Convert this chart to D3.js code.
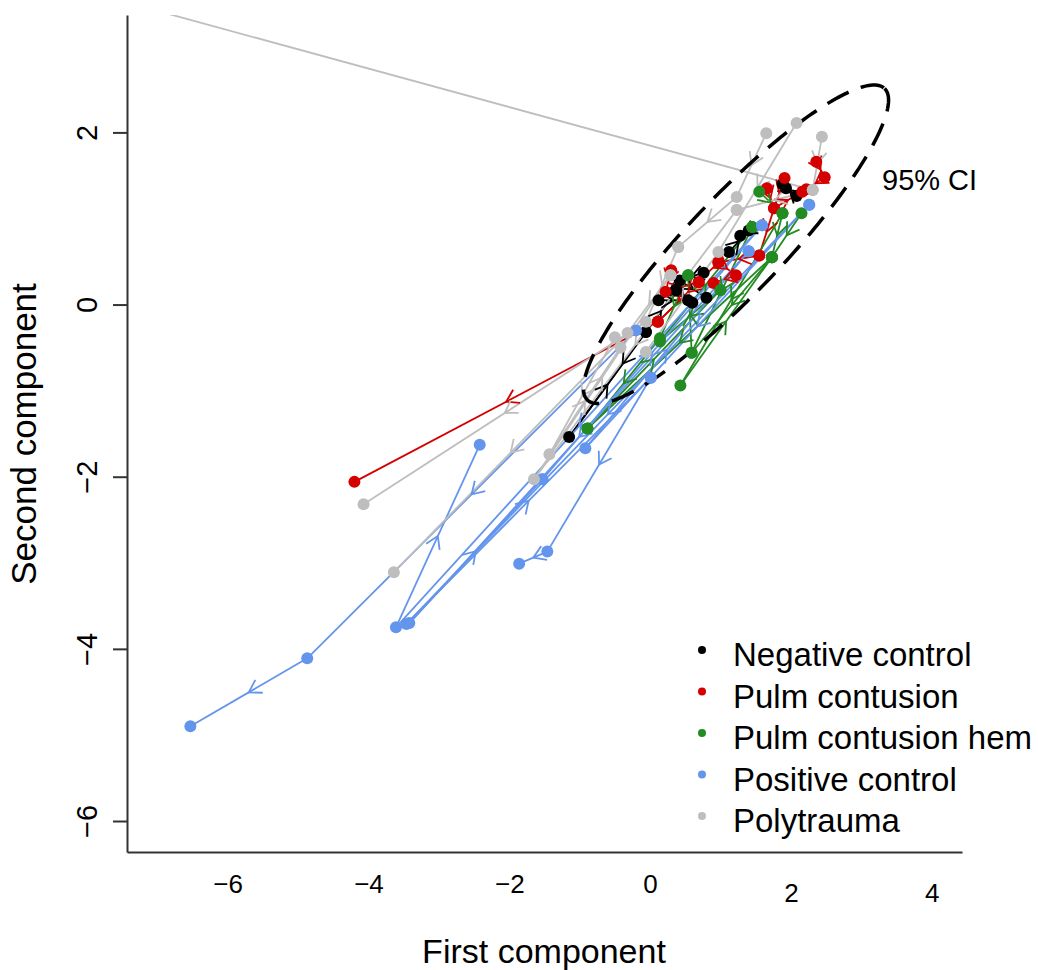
<!DOCTYPE html>
<html>
<head>
<meta charset="utf-8">
<script src="https://cdnjs.cloudflare.com/ajax/libs/d3/7.8.5/d3.min.js"></script>
<style>
  body { margin: 0; background: #fff; }
  svg { display: block; font-family: 'Liberation Sans', Arial, sans-serif; }
</style>
</head>
<body>
<div id="chart"></div>
<script>
// Groups, legend order
const groupNames  = ['Negative control', 'Pulm contusion', 'Pulm contusion hem', 'Positive control', 'Polytrauma'];
const groupColors = ['#000000', '#d40000', '#228b22', '#6495ed', '#bebebe'];

// Trajectories per animal: [first component, second component] per time point
const negativeControl = [
  [[1.93, 1.35], [2.08, 1.26], [1.88, 1.40]],
  [[1.12, 0.61], [1.40, 0.86], [1.28, 0.80]],
  [[0.76, 0.37], [0.42, 0.28], [0.80, 0.08]],
  [[0.37, 0.17], [0.12, 0.05], [0.54, 0.05]],
  [[-0.06, -0.32], [0.37, 0.17], [0.60, 0.02]],
  [[0.37, 0.17], [-1.15, -1.54], [-0.06, -0.32]]
];
const pulmContusion = [
  [[0.69, 0.26], [0.11, -0.20], [-4.20, -2.06]],
  [[1.66, 1.35], [1.76, 1.12], [1.55, 0.57]],
  [[1.91, 1.47], [1.76, 1.12], [2.16, 1.31]],
  [[2.36, 1.66], [2.48, 1.48], [2.22, 1.34]],
  [[0.97, 0.49], [1.22, 0.34], [0.90, 0.25]],
  [[0.30, 0.40], [0.22, 0.15], [0.69, 0.26]],
  [[1.55, 0.57], [0.97, 0.49], [0.11, -0.20]]
];
const pulmContusionHem = [
  [[1.55, 1.31], [1.88, 1.06], [1.73, 0.55]],
  [[2.15, 1.06], [1.73, 0.55], [0.59, -0.56]],
  [[1.88, 1.06], [0.43, -0.94], [1.73, 0.55]],
  [[0.54, 0.34], [0.14, -0.39], [-0.89, -1.44]],
  [[1.00, 0.17], [0.14, -0.43], [1.45, 0.90]],
  [[1.73, 0.55], [-0.89, -1.44], [1.00, 0.17]],
  [[1.45, 0.90], [0.59, -0.56], [0.54, 0.34]]
];
const positiveControl = [
  [[-0.20, -0.30], [-4.87, -4.11], [-6.53, -4.90]],
  [[1.59, 0.92], [-3.61, -3.75], [-2.42, -1.63]],
  [[1.40, 0.62], [-3.42, -3.70], [-1.53, -2.03]],
  [[2.26, 1.16], [-3.46, -3.71], [0.01, -0.85]],
  [[0.01, -0.85], [-1.46, -2.87], [-1.86, -3.01]],
  [[2.26, 1.16], [-0.92, -1.67], [1.40, 0.62]],
  [[-1.53, -2.03], [1.59, 0.92]]
];
const polytrauma = [
  [[2.31, 1.33], [-20.0, 6.32]],
  [[2.44, 1.95], [2.31, 1.33], [1.23, 1.10]],
  [[1.65, 1.99], [1.23, 1.25], [0.40, 0.67]],
  [[2.08, 2.11], [0.97, 0.61], [-0.06, -0.55]],
  [[0.29, 0.34], [-0.32, -0.33], [-3.64, -3.11]],
  [[0.40, 0.67], [-0.06, -0.20], [-4.07, -2.32]],
  [[-0.50, -0.38], [-1.43, -1.74], [-0.42, -0.50]],
  [[1.23, 1.10], [-1.65, -2.03], [0.29, 0.34]]
];
const groupTracks = [negativeControl, pulmContusion, pulmContusionHem, positiveControl, polytrauma];

// Axis ticks
const xTicks = [-6, -4, -2, 0, 2, 4];
const yTicks = [-6, -4, -2, 0, 2];

// 95% CI ellipse: centre and the two semi-axis vectors, in data units
const ciCentre = [1.22, 0.70];
const ciMajor  = [2.11, 1.81];
const ciMinor  = [0.494, -0.385];

const width = 1038, height = 970;
const plot = { left: 127, right: 962, top: 15, bottom: 852 };

const x = d3.scaleLinear().domain([-7.43, 4.43]).range([plot.left, plot.right]);
const y = d3.scaleLinear().domain([-6.36, 3.364]).range([plot.bottom, plot.top]);

const svg = d3.select('#chart').append('svg')
  .attr('width', width)
  .attr('height', height);

svg.append('defs').append('clipPath').attr('id', 'plot-clip')
  .append('rect')
  .attr('x', plot.left).attr('y', plot.top)
  .attr('width', plot.right - plot.left)
  .attr('height', plot.bottom - plot.top);

const g = svg.append('g').attr('clip-path', 'url(#plot-clip)');

// Flatten to segments and points
const segments = [];
const points = [];
groupTracks.forEach((tracks, gi) => {
  tracks.forEach(track => {
    track.forEach((p, i) => {
      points.push({ gi, p });
      if (i > 0) segments.push({ gi, a: track[i - 1], b: p });
    });
  });
});

const line = d3.line().x(d => x(d[0])).y(d => y(d[1]));

// Trajectory lines
g.append('g').selectAll('path')
  .data(segments)
  .join('path')
  .attr('d', d => line([d.a, d.b]))
  .attr('fill', 'none')
  .attr('stroke', d => groupColors[d.gi])
  .attr('stroke-width', 1.8);

// Open arrowheads at segment midpoints
const headLen = 14, headAng = Math.PI / 180 * 32;
function arrowHead(d) {
  const x0 = x(d.a[0]), y0 = y(d.a[1]), x1 = x(d.b[0]), y1 = y(d.b[1]);
  const mx = (x0 + x1) / 2, my = (y0 + y1) / 2;
  const ang = Math.atan2(y1 - y0, x1 - x0);
  const e1 = [mx - headLen * Math.cos(ang - headAng), my - headLen * Math.sin(ang - headAng)];
  const e2 = [mx - headLen * Math.cos(ang + headAng), my - headLen * Math.sin(ang + headAng)];
  return `M${e1[0]},${e1[1]}L${mx},${my}L${e2[0]},${e2[1]}`;
}
g.append('g').selectAll('path')
  .data(segments)
  .join('path')
  .attr('d', arrowHead)
  .attr('fill', 'none')
  .attr('stroke', d => groupColors[d.gi])
  .attr('stroke-width', 1.8);

// 95% CI ellipse
const ts = d3.range(0, 2 * Math.PI + 0.001, Math.PI / 120);
g.append('path')
  .datum(ts.map(t => [
    ciCentre[0] + Math.cos(t) * ciMajor[0] + Math.sin(t) * ciMinor[0],
    ciCentre[1] + Math.cos(t) * ciMajor[1] + Math.sin(t) * ciMinor[1]
  ]))
  .attr('d', line)
  .attr('fill', 'none')
  .attr('stroke', '#000')
  .attr('stroke-width', 3.5)
  .attr('stroke-dasharray', '24,13');

// Points
g.append('g').selectAll('circle')
  .data(points)
  .join('circle')
  .attr('cx', d => x(d.p[0]))
  .attr('cy', d => y(d.p[1]))
  .attr('r', 6)
  .attr('fill', d => groupColors[d.gi]);

// Left axis
const yAxis = svg.append('g')
  .attr('transform', `translate(${plot.left},0)`)
  .call(d3.axisLeft(y).tickValues(yTicks).tickSize(14).tickSizeOuter(0).tickFormat(d3.format('d')));
yAxis.select('.domain').attr('stroke', '#333').attr('stroke-width', 2);
yAxis.selectAll('.tick line').attr('stroke', '#333').attr('stroke-width', 2);
yAxis.selectAll('.tick text')
  .attr('x', null).attr('dy', null)
  .attr('transform', 'translate(-30,0) rotate(-90)')
  .attr('text-anchor', 'middle')
  .attr('fill', '#000')
  .style('font-size', '29px');

// Bottom axis line, no ticks
const xAxis = svg.append('g')
  .attr('transform', `translate(0,${plot.bottom})`)
  .call(d3.axisBottom(x).tickValues(xTicks).tickSize(0).tickSizeOuter(0).tickPadding(36).tickFormat(d3.format('d')));
xAxis.select('.domain').attr('stroke', '#333').attr('stroke-width', 2);
xAxis.selectAll('.tick text')
  .attr('dy', d => d >= 2 ? '0.52em' : '0.18em')
  .attr('fill', '#000')
  .style('font-size', '26px');

// Axis titles
svg.append('text')
  .attr('x', 544).attr('y', 963)
  .attr('text-anchor', 'middle')
  .style('font-size', '34px')
  .text('First component');
svg.append('text')
  .attr('transform', 'translate(36,434) rotate(-90)')
  .attr('text-anchor', 'middle')
  .style('font-size', '35px')
  .text('Second component');

// Ellipse label
svg.append('text')
  .attr('x', 882).attr('y', 190)
  .style('font-size', '29px')
  .text('95% CI');

// Legend
const legend = svg.append('g').selectAll('g')
  .data(groupNames)
  .join('g')
  .attr('transform', (d, i) => `translate(702,${666 + i * 41.5})`);
legend.append('circle')
  .attr('cx', 0).attr('cy', -16)
  .attr('r', 4)
  .attr('fill', (d, i) => groupColors[i]);
legend.append('text')
  .attr('x', 31).attr('y', 0)
  .style('font-size', '33px')
  .text(d => d);
</script>
</body>
</html>
